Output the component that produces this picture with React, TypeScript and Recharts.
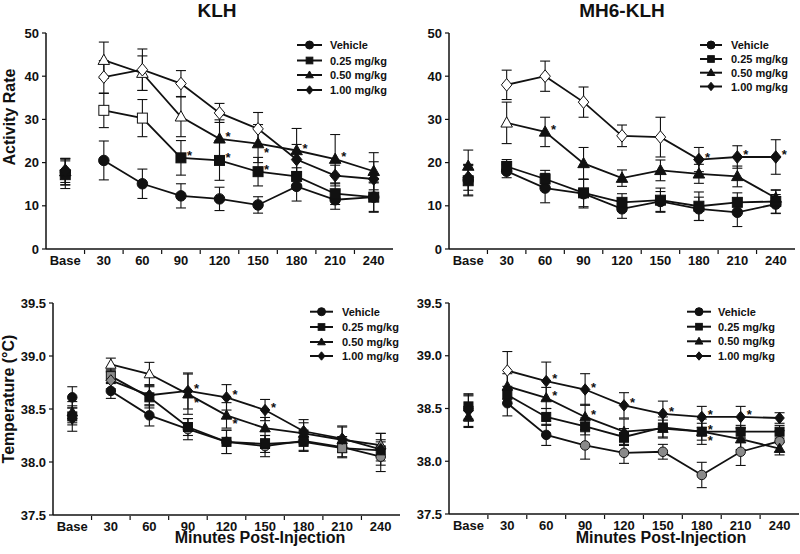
import React from "react";
import { ComposedChart, Line, ErrorBar, XAxis, YAxis } from "recharts";

const FONT = "'Liberation Sans', Arial, Helvetica, sans-serif";
const INK = "#111";

const cats = ["Base", "30", "60", "90", "120", "150", "180", "210", "240"];
const seriesNames = ["Vehicle", "0.25 mg/kg", "0.50 mg/kg", "1.00 mg/kg"];
const shapes = ["circle", "square", "triangle", "diamond"];

// KLH - activity
const klhActVeh = [17.8, 20.5, 15.1, 12.3, 11.6, 10.2, 14.5, 11.4, 12.0];
const klhActVehErr = [3.0, 4.5, 3.4, 2.8, 2.7, 1.9, 3.4, 2.2, 3.5];
const klhAct025 = [17.2, 32.1, 30.3, 21.1, 20.5, 17.9, 16.8, 12.8, 12.0];
const klhAct025Err = [3.2, 4.0, 4.3, 4.0, 4.6, 3.3, 2.0, 2.5, 3.3];
const klhAct050 = [17.9, 43.7, 40.7, 30.6, 25.5, 24.4, 22.8, 20.8, 18.0];
const klhAct050Err = [3.0, 4.2, 4.0, 4.6, 4.4, 4.4, 5.1, 5.7, 4.3];
const klhAct100 = [18.2, 39.8, 41.5, 38.3, 31.5, 27.8, 20.7, 17.0, 16.2];
const klhAct100Err = [2.8, 3.8, 4.8, 3.0, 2.2, 3.8, 3.5, 2.4, 4.0];

// MH6-KLH - activity
const mh6ActVeh = [16.0, 18.0, 14.1, 12.8, 9.3, 11.0, 9.3, 8.5, 10.4];
const mh6ActVehErr = [3.5, 1.5, 3.4, 3.3, 2.2, 2.3, 2.7, 3.3, 2.2];
const mh6Act025 = [15.8, 19.1, 16.2, 13.0, 10.8, 11.3, 9.9, 10.8, 11.0];
const mh6Act025Err = [3.5, 1.6, 2.0, 3.2, 2.0, 2.8, 3.3, 2.2, 2.7];
const mh6Act050 = [19.2, 29.2, 27.1, 19.8, 16.4, 18.2, 17.4, 16.8, 11.8];
const mh6Act050Err = [3.7, 4.8, 3.4, 3.7, 1.9, 2.4, 2.2, 2.4, 1.8];
const mh6Act100 = [16.6, 38.0, 40.0, 34.0, 26.2, 25.9, 20.7, 21.3, 21.3];
const mh6Act100Err = [3.0, 3.4, 3.5, 3.5, 2.5, 4.6, 2.8, 2.6, 4.0];

// KLH - temperature
const klhTmpVeh = [38.61, 38.67, 38.44, 38.31, 38.19, 38.15, 38.2, 38.14, 38.05];
const klhTmpVehErr = [0.1, 0.07, 0.1, 0.1, 0.11, 0.1, 0.1, 0.1, 0.14];
const klhTmp025 = [38.43, 38.81, 38.61, 38.33, 38.19, 38.17, 38.19, 38.13, 38.11];
const klhTmp025Err = [0.08, 0.06, 0.1, 0.08, 0.11, 0.08, 0.08, 0.08, 0.1];
const klhTmp050 = [38.47, 38.92, 38.83, 38.64, 38.44, 38.32, 38.27, 38.21, 38.16];
const klhTmp050Err = [0.1, 0.06, 0.11, 0.19, 0.12, 0.1, 0.1, 0.12, 0.11];
const klhTmp100 = [38.41, 38.77, 38.63, 38.67, 38.61, 38.49, 38.29, 38.22, 38.12];
const klhTmp100Err = [0.12, 0.08, 0.1, 0.17, 0.12, 0.1, 0.11, 0.12, 0.15];

// MH6-KLH - temperature
const mh6TmpVeh = [38.5, 38.55, 38.25, 38.15, 38.08, 38.09, 37.87, 38.09, 38.19];
const mh6TmpVehErr = [0.12, 0.12, 0.1, 0.13, 0.1, 0.07, 0.12, 0.13, 0.1];
const mh6Tmp025 = [38.52, 38.63, 38.42, 38.33, 38.23, 38.32, 38.28, 38.28, 38.28];
const mh6Tmp025Err = [0.12, 0.08, 0.08, 0.08, 0.08, 0.1, 0.08, 0.06, 0.06];
const mh6Tmp050 = [38.42, 38.71, 38.6, 38.42, 38.28, 38.31, 38.28, 38.21, 38.12];
const mh6Tmp050Err = [0.1, 0.12, 0.1, 0.12, 0.12, 0.08, 0.12, 0.1, 0.06];
const mh6Tmp100 = [38.48, 38.86, 38.76, 38.68, 38.53, 38.45, 38.42, 38.42, 38.41];
const mh6Tmp100Err = [0.15, 0.18, 0.18, 0.15, 0.12, 0.12, 0.1, 0.1, 0.05];

// marker fill per point: f = filled, o = open, g = grey
const klhActFill = ["fffffffff", "fooffffff", "foooffffff", "fooooofff"];
const mh6ActFill = ["fffffffff", "fffffffff", "fofffffff", "fooooofff"];
const klhTmpFill = ["fffgfgffg", "fgfffffgf", "foofffffg", "fgfffffff"];
const mh6TmpFill = ["fffgggggg", "fffffffff", "fffffffff", "fofffffff"];

// significance stars: 1 = above right, -1 = below right
const none = [0, 0, 0, 0, 0, 0, 0, 0, 0];
const klhActSig = [none, [0, 0, 0, 1, 1, 1, 0, 0, 0], [0, 0, 0, 0, 1, -1, 1, 1, 0], none];
const mh6ActSig = [none, none, [0, 0, 1, 0, 0, 0, 0, 0, 0], [0, 0, 0, 0, 0, 0, 1, 1, 1]];
const klhTmpSig = [none, none, [0, 0, 0, -1, -1, 0, 0, 0, 0], [0, 0, 0, 1, 1, 1, 0, 0, 0]];
const mh6TmpSig = [none, [0, 0, 0, 0, 0, 0, 1, 0, 0], [0, 0, 1, 1, 0, 0, -1, 0, 0], [0, 0, 1, 1, 1, 1, 1, 1, 0]];

const fillColor: Record<string, string> = { f: INK, o: "#fff", g: "#8a8a8a" };

type Series = { key: string; shape: string; vals: number[]; errs: number[]; fills: string; sig: number[] };

function makeSeries(vals: number[][], errs: number[][], fills: string[], sig: number[][]): Series[] {
  return vals.map((v, i) => ({ key: "s" + i, shape: shapes[i], vals: v, errs: errs[i], fills: fills[i], sig: sig[i] }));
}

function Mark({ shape, cx, cy, fill, size }: { shape: string; cx: number; cy: number; fill: string; size: number }) {
  const r = size / 2;
  const common = { fill, stroke: INK, strokeWidth: 1 };
  if (shape === "circle") return <circle cx={cx} cy={cy} r={r} {...common} />;
  if (shape === "square") return <rect x={cx - r * 0.95} y={cy - r * 0.95} width={r * 1.9} height={r * 1.9} {...common} />;
  if (shape === "triangle")
    return <polygon points={`${cx},${cy - r * 1.15} ${cx + r * 1.1},${cy + r * 0.8} ${cx - r * 1.1},${cy + r * 0.8}`} {...common} />;
  return <polygon points={`${cx},${cy - r * 1.2} ${cx + r},${cy} ${cx},${cy + r * 1.2} ${cx - r},${cy}`} {...common} />;
}

const makeDot = (s: Series, size: number) => (p: any) => {
  const { cx, cy, index, value } = p;
  if (value == null || cx == null || cy == null) return <g key={`n${index}`} />;
  const sg = s.sig[index];
  return (
    <g key={`d${index}`}>
      <Mark shape={s.shape} cx={cx} cy={cy} fill={fillColor[s.fills[index]] || INK} size={size} />
      {sg !== 0 && (
        <text x={cx + 6} y={sg > 0 ? cy + 2 : cy + 13} fontSize={13} fontWeight={700} fontFamily={FONT} fill={INK}>
          *
        </text>
      )}
    </g>
  );
};

// category label at band centre, plus a tick mark on the boundary to its right
const makeCatTick = (half: number) => (p: any) => {
  const { x, y, payload } = p;
  const i = payload.value;
  const ay = y - 6;
  return (
    <g>
      <text x={x} y={y} dy="0.71em" textAnchor="middle" fontSize={13} fontWeight={700} fontFamily={FONT} fill={INK}>
        {cats[i]}
      </text>
      {i < cats.length - 1 && <line x1={x + half} x2={x + half} y1={ay} y2={ay + 4} stroke={INK} strokeWidth={1.2} />}
    </g>
  );
};

type PanelProps = {
  left: number;
  top: number;
  width: number;
  height: number;
  margin: { top: number; right: number; bottom: number; left: number };
  yWidth: number;
  domain: [number, number];
  ticks: number[];
  fmt: (v: number) => string;
  series: Series[];
  size: number;
};

const tickStyle = { fill: INK, fontSize: 13, fontWeight: 700, fontFamily: FONT };

function Panel({ left, top, width, height, margin, yWidth, domain, ticks, fmt, series, size }: PanelProps) {
  const rows = cats.map((c, i) => {
    const r: any = { x: i };
    series.forEach((s) => {
      if (i === 0) {
        r[s.key + "_b"] = s.vals[0];
        r[s.key + "_be"] = s.errs[0];
      } else {
        r[s.key] = s.vals[i];
        r[s.key + "_e"] = s.errs[i];
      }
    });
    return r;
  });
  const plotW = width - margin.left - margin.right - yWidth;
  const half = plotW / cats.length / 2;
  return (
    <div style={{ position: "absolute", left, top }}>
      <ComposedChart width={width} height={height} data={rows} margin={margin}>
        <XAxis
          dataKey="x"
          type="number"
          domain={[-0.5, 8.5]}
          ticks={[0, 1, 2, 3, 4, 5, 6, 7, 8]}
          interval={0}
          tick={makeCatTick(half)}
          tickLine={false}
          tickSize={4}
          tickMargin={3}
          height={25}
          allowDataOverflow
          axisLine={{ stroke: INK, strokeWidth: 1.5 }}
        />
        <YAxis
          type="number"
          domain={domain}
          ticks={ticks}
          interval={0}
          tickFormatter={fmt}
          width={yWidth}
          tickSize={4}
          tickMargin={3}
          allowDataOverflow
          axisLine={{ stroke: INK, strokeWidth: 1.5 }}
          tickLine={{ stroke: INK, strokeWidth: 1.2 }}
          tick={tickStyle}
        />
        {series.map((s) => (
          <Line
            key={s.key}
            dataKey={s.key}
            stroke={INK}
            strokeWidth={1.8}
            dot={makeDot(s, size)}
            activeDot={false}
            isAnimationActive={false}
          >
            <ErrorBar dataKey={s.key + "_e"} width={5} stroke={INK} strokeWidth={1.1} direction="y" />
          </Line>
        ))}
        {series.map((s) => (
          <Line
            key={s.key + "b"}
            dataKey={s.key + "_b"}
            stroke="none"
            dot={makeDot(s, size)}
            activeDot={false}
            isAnimationActive={false}
          >
            <ErrorBar dataKey={s.key + "_be"} width={5} stroke={INK} strokeWidth={1.1} direction="y" />
          </Line>
        ))}
      </ComposedChart>
    </div>
  );
}

function LegendBox({ x1, x2, tx, rows }: { x1: number; x2: number; tx: number; rows: number[] }) {
  const mx = (x1 + x2) / 2;
  return (
    <g>
      {rows.map((y, i) => (
        <g key={i}>
          <line x1={x1} x2={x2} y1={y} y2={y} stroke={INK} strokeWidth={2} />
          <Mark shape={shapes[i]} cx={mx} cy={y} fill={INK} size={i === 0 ? 8 : 7} />
          <text x={tx} y={y} dominantBaseline="central" fontSize={11} fontWeight={700} fontFamily={FONT} fill={INK}>
            {seriesNames[i]}
          </text>
        </g>
      ))}
    </g>
  );
}

const actTicks = [0, 10, 20, 30, 40, 50];
const tmpTicks = [37.5, 38.0, 38.5, 39.0, 39.5];

export default function App() {
  const klhAct = makeSeries(
    [klhActVeh, klhAct025, klhAct050, klhAct100],
    [klhActVehErr, klhAct025Err, klhAct050Err, klhAct100Err],
    klhActFill,
    klhActSig
  );
  const mh6Act = makeSeries(
    [mh6ActVeh, mh6Act025, mh6Act050, mh6Act100],
    [mh6ActVehErr, mh6Act025Err, mh6Act050Err, mh6Act100Err],
    mh6ActFill,
    mh6ActSig
  );
  const klhTmp = makeSeries(
    [klhTmpVeh, klhTmp025, klhTmp050, klhTmp100],
    [klhTmpVehErr, klhTmp025Err, klhTmp050Err, klhTmp100Err],
    klhTmpFill,
    klhTmpSig
  );
  const mh6Tmp = makeSeries(
    [mh6TmpVeh, mh6Tmp025, mh6Tmp050, mh6Tmp100],
    [mh6TmpVehErr, mh6Tmp025Err, mh6Tmp050Err, mh6Tmp100Err],
    mh6TmpFill,
    mh6TmpSig
  );
  const intFmt = (v: number) => String(v);
  const decFmt = (v: number) => v.toFixed(1);
  const labelStyle = { fontSize: 16, fontWeight: 700, fontFamily: FONT, fill: INK };

  return (
    <div style={{ position: "absolute", left: 0, top: 0, width: 800, height: 554, background: "#fff" }}>
      <Panel left={0} top={0} width={400} height={280} margin={{ top: 33, right: 7, bottom: 6, left: 0 }}
        yWidth={46} domain={[0, 50]} ticks={actTicks} fmt={intFmt} series={klhAct} size={10.5} />
      <Panel left={400} top={0} width={400} height={280} margin={{ top: 33, right: 5, bottom: 6, left: 0 }}
        yWidth={49} domain={[0, 50]} ticks={actTicks} fmt={intFmt} series={mh6Act} size={10.5} />
      <Panel left={0} top={280} width={402} height={274} margin={{ top: 23, right: 2, bottom: 14, left: 0 }}
        yWidth={53} domain={[37.5, 39.5]} ticks={tmpTicks} fmt={decFmt} series={klhTmp} size={9.5} />
      <Panel left={400} top={280} width={400} height={274} margin={{ top: 23, right: 1, bottom: 15, left: 0 }}
        yWidth={49} domain={[37.5, 39.5]} ticks={tmpTicks} fmt={decFmt} series={mh6Tmp} size={9.5} />
      <svg width={800} height={554} style={{ position: "absolute", left: 0, top: 0, pointerEvents: "none" }}>
        <text x={217} y={17} textAnchor="middle" fontSize={19} fontWeight={700} fontFamily={FONT} fill={INK}>KLH</text>
        <text x={622} y={17} textAnchor="middle" fontSize={19} fontWeight={700} fontFamily={FONT} fill={INK}>MH6-KLH</text>
        <text x={15} y={117} textAnchor="middle" transform="rotate(-90 15 117)" {...labelStyle}>Activity Rate</text>
        <text x={14} y={399} textAnchor="middle" transform="rotate(-90 14 399)" {...labelStyle}>Temperature (°C)</text>
        <text x={260} y={543} textAnchor="middle" {...labelStyle}>Minutes Post-Injection</text>
        <text x={661} y={543} textAnchor="middle" {...labelStyle}>Minutes Post-Injection</text>
        <LegendBox x1={297} x2={322} tx={330} rows={[45, 60.5, 75, 90]} />
        <LegendBox x1={700} x2={722} tx={731} rows={[45, 59, 72.7, 86.5]} />
        <LegendBox x1={310} x2={333} tx={342} rows={[311.7, 327, 342, 356]} />
        <LegendBox x1={687} x2={711} tx={718} rows={[311.7, 326.7, 341.3, 356]} />
      </svg>
    </div>
  );
}
